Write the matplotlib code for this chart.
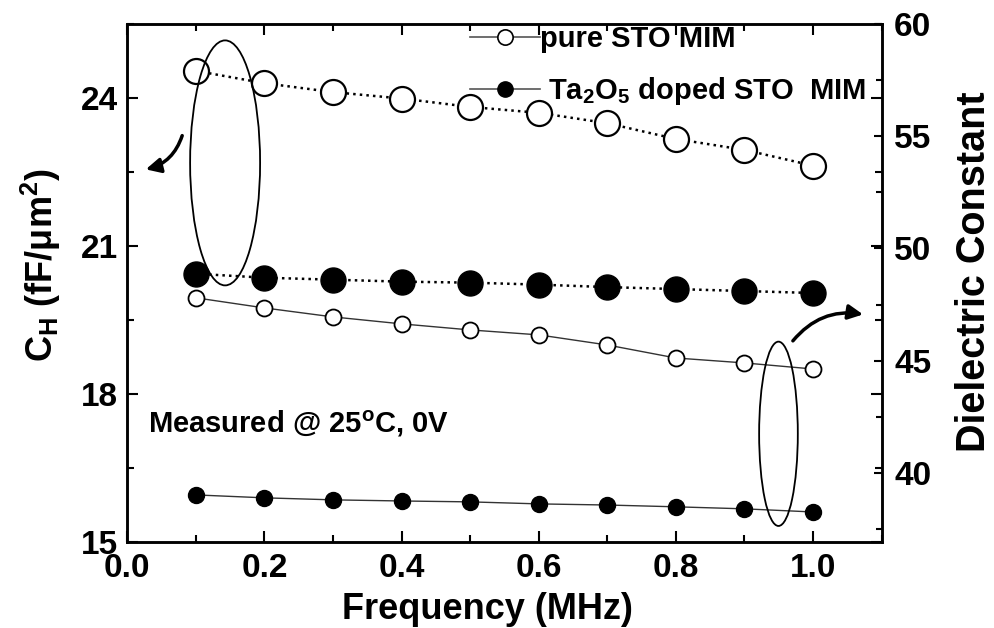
import matplotlib
matplotlib.use('Agg')
import matplotlib.pyplot as plt
from matplotlib.lines import Line2D
from matplotlib.patches import Ellipse, FancyArrowPatch
from matplotlib.ticker import MultipleLocator, FormatStrFormatter

plt.rcParams['font.family'] = ['Liberation Sans', 'DejaVu Sans']
plt.rcParams['font.weight'] = 'bold'
plt.rcParams['axes.labelweight'] = 'bold'
plt.rcParams['mathtext.fontset'] = 'custom'
plt.rcParams['mathtext.rm'] = 'Liberation Sans:bold'
plt.rcParams['mathtext.it'] = 'Liberation Sans:bold'
plt.rcParams['mathtext.bf'] = 'Liberation Sans:bold'

# data
freq = [0.1, 0.2, 0.3, 0.4, 0.5, 0.6, 0.7, 0.8, 0.9, 1.0]
ch_pure = [24.55, 24.30, 24.12, 23.99, 23.82, 23.70, 23.49, 23.17, 22.95, 22.63]
ch_ta = [20.44, 20.36, 20.32, 20.28, 20.26, 20.22, 20.17, 20.13, 20.09, 20.05]
k_pure = [47.80, 47.35, 46.95, 46.64, 46.37, 46.15, 45.70, 45.12, 44.90, 44.63]
k_ta = [39.02, 38.89, 38.80, 38.75, 38.71, 38.62, 38.57, 38.49, 38.40, 38.26]

labels = ['pure STO MIM', ' Ta$_2$O$_5$ doped STO  MIM']

fig = plt.figure(figsize=(9.95, 6.28), dpi=100)
ax = fig.add_axes([0.128, 0.1365, 0.758, 0.8253])
ax2 = ax.twinx()

# capacitance density (left axis) - big markers, dotted lines
ax.plot(freq, ch_pure, ':', color='black', lw=1.8, marker='o', ms=18,
        mfc='white', mec='black', mew=1.6, zorder=3)
ax.plot(freq, ch_ta, ':', color='black', lw=1.8, marker='o', ms=18,
        mfc='black', mec='black', zorder=3)

# dielectric constant (right axis) - small markers, thin lines
ax2.plot(freq, k_pure, '-', color='#333333', lw=1.0, marker='o', ms=11.5,
         mfc='white', mec='black', mew=1.3)
ax2.plot(freq, k_ta, '-', color='#333333', lw=1.0, marker='o', ms=11.5,
         mfc='black', mec='black')

ax.set_xlim(0, 1.1)
ax.set_ylim(15, 25.5)
ax2.set_ylim(36.91, 60)

ax.xaxis.set_major_locator(MultipleLocator(0.2))
ax.xaxis.set_minor_locator(MultipleLocator(0.1))
ax.yaxis.set_major_locator(MultipleLocator(3))
ax.yaxis.set_minor_locator(MultipleLocator(1.5))
ax2.yaxis.set_major_locator(MultipleLocator(5))
ax2.yaxis.set_minor_locator(MultipleLocator(2.5))
ax.xaxis.set_major_formatter(FormatStrFormatter('%.1f'))

ax.tick_params(which='both', direction='in', top=True, right=True, width=1.5)
ax.tick_params(which='major', length=8)
ax.tick_params(which='minor', length=5)
ax.tick_params(axis='x', labelsize=24, pad=8)
ax.tick_params(axis='y', labelsize=24, pad=7)
ax2.tick_params(which='both', direction='in', width=1.5)
ax2.tick_params(which='major', length=6, labelsize=24, pad=9)
ax2.tick_params(which='minor', length=4)

for a in (ax, ax2):
    for s in a.spines.values():
        s.set_linewidth(1.8)

ax.set_xlabel('Frequency (MHz)', fontsize=26)
ax.xaxis.set_label_coords(0.477, -0.095)
ax.set_ylabel('C$_\\mathrm{H}$ (fF/\u03bcm$^\\mathrm{2}$)', fontsize=26)
ax.yaxis.set_label_coords(-0.085, 0.535)
ax2.set_ylabel('Dielectric Constant', fontsize=28.5)
ax2.yaxis.set_label_coords(1.098, 0.523)

ax.text(0.0274, 0.211, 'Measured @ 25$^\\mathrm{o}$C, 0V', transform=ax.transAxes,
        fontsize=21, va='baseline', ha='left')

# ellipses and arrows pointing to each axis
ax2.add_patch(Ellipse((0.1296, 0.732), 0.0928, 0.4727, transform=ax.transAxes,
                      fill=False, ec='black', lw=1.3, zorder=5))
ax2.add_patch(Ellipse((0.8633, 0.2093), 0.0513, 0.3556, transform=ax.transAxes,
                      fill=False, ec='black', lw=1.3, zorder=5))
ax2.add_patch(FancyArrowPatch((0.0738, 0.7897), (0.0208, 0.7183), transform=ax.transAxes,
                              connectionstyle='arc3,rad=-0.3', arrowstyle='-|>',
                              mutation_scale=22, lw=2.5, color='black'))
ax2.add_patch(FancyArrowPatch((0.8801, 0.3845), (0.9791, 0.4387), transform=ax.transAxes,
                              connectionstyle='arc3,rad=-0.3', arrowstyle='-|>',
                              mutation_scale=22, lw=2.5, color='black'))

h1 = Line2D([], [], color='#555555', lw=1.2, marker='o', ms=11, mfc='white', mec='black', mew=1.2)
h2 = Line2D([], [], color='#555555', lw=1.2, marker='o', ms=11, mfc='black', mec='black')
ax2.legend([h1, h2], labels, loc='upper left', bbox_to_anchor=(0.454, 0.998),
           frameon=False, fontsize=21, handlelength=2.4, handletextpad=0.0,
           borderpad=0, borderaxespad=0, labelspacing=0.75)

fig.savefig('out.png', dpi=100)
